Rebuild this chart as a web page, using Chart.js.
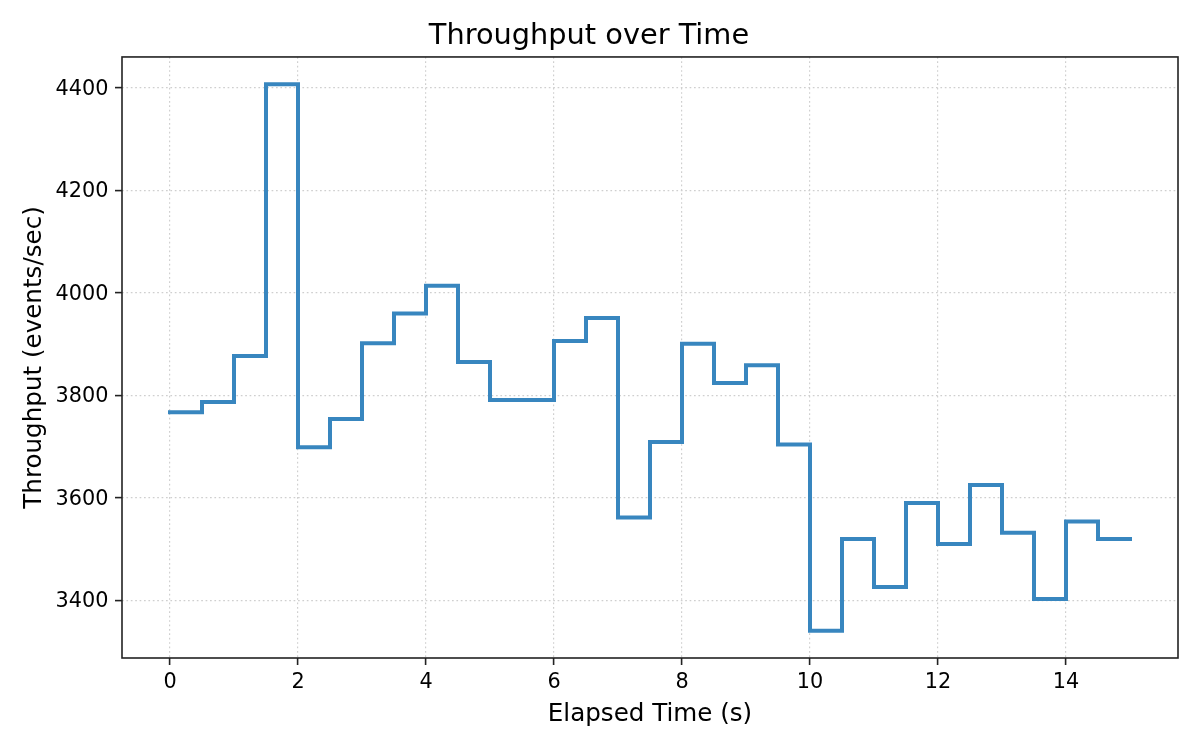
<!DOCTYPE html>
<html>
<head>
<meta charset="utf-8">
<title>Throughput over Time</title>
<script src="https://cdn.jsdelivr.net/npm/chart.js@4.4.1/dist/chart.umd.min.js"></script>
<style>
  html, body { margin: 0; padding: 0; background: #fff; }
  #wrap { width: 1200px; height: 750px; }
</style>
</head>
<body>
<div id="wrap"><canvas id="throughputChart" width="1200" height="750"></canvas></div>
<script>
// elapsed time (s) of each sample
const elapsed = [0, 0.5, 1, 1.5, 2, 2.5, 3, 3.5, 4, 4.5, 5, 5.5, 6, 6.5, 7, 7.5,
  8, 8.5, 9, 9.5, 10, 10.5, 11, 11.5, 12, 12.5, 13, 13.5, 14, 14.5, 15];
// throughput (events/sec), held until the next sample
const throughput = [3767, 3787, 3877, 4407, 3699, 3754, 3902, 3960, 4014, 3865,
  3791, 3791, 3906, 3951, 3562, 3709, 3901, 3824, 3859, 3704,
  3341, 3520, 3426, 3590, 3510, 3625, 3532, 3403, 3554, 3520, 3520];
const xTicks = [0, 2, 4, 6, 8, 10, 12, 14];
const yTicks = [3400, 3600, 3800, 4000, 4200, 4400];

const FONT = 'DejaVu Sans';

// matplotlib-like 5% margins around the data
const xSpan = elapsed[elapsed.length - 1] - elapsed[0];
const yLo = Math.min(...throughput), yHi = Math.max(...throughput);
const ySpan = yHi - yLo;

const gridStyle = {
  color: '#cfcfcf',
  lineWidth: 1.2,
  drawTicks: true,
  tickLength: 7,
  tickColor: '#222',
  tickWidth: 1.6
};

// full box around the plot area, like the axes spines
const frame = {
  id: 'frame',
  afterDraw(chart) {
    const { ctx, chartArea: a } = chart;
    ctx.save();
    ctx.strokeStyle = '#222';
    ctx.lineWidth = 1.6;
    ctx.strokeRect(a.left, a.top, a.right - a.left, a.bottom - a.top);
    ctx.restore();
  }
};

new Chart(document.getElementById('throughputChart'), {
  type: 'line',
  data: {
    datasets: [{
      label: 'Throughput',
      data: elapsed.map((t, i) => ({ x: t, y: throughput[i] })),
      stepped: 'before',
      borderColor: '#3886bf',
      borderWidth: 4,
      borderJoinStyle: 'miter',
      borderCapStyle: 'square',
      pointRadius: 0,
      fill: false,
      tension: 0
    }]
  },
  options: {
    responsive: false,
    animation: false,
    devicePixelRatio: 1,
    layout: { padding: { left: 0, right: 22, top: 0, bottom: 0 } },
    plugins: {
      legend: { display: false },
      tooltip: { enabled: false },
      title: {
        display: true,
        text: 'Throughput over Time',
        color: '#000',
        font: { family: FONT, size: 28.8, weight: 'normal' },
        padding: { top: 19, bottom: 3.4 }
      }
    },
    scales: {
      x: {
        type: 'linear',
        min: elapsed[0] - 0.05 * xSpan,
        max: elapsed[elapsed.length - 1] + 0.05 * xSpan,
        afterBuildTicks: (s) => { s.ticks = xTicks.map(v => ({ value: v })); },
        afterFit: (s) => { s.height = 92; },
        ticks: {
          color: '#000',
          padding: 5.5,
          maxRotation: 0,
          callback: (v) => String(v),
          font: { family: FONT, size: 20.8 }
        },
        grid: gridStyle,
        border: { display: false, dash: [1.7, 2.7] },
        title: {
          display: true,
          text: 'Elapsed Time (s)',
          color: '#000',
          font: { family: FONT, size: 24.6 },
          padding: { top: 0, bottom: 21 }
        }
      },
      y: {
        type: 'linear',
        min: yLo - 0.05 * ySpan,
        max: yHi + 0.05 * ySpan,
        afterBuildTicks: (s) => { s.ticks = yTicks.map(v => ({ value: v })); },
        afterFit: (s) => { s.width = 122; },
        ticks: {
          color: '#000',
          padding: 6.5,
          labelOffset: 1.5,
          callback: (v) => String(v),
          font: { family: FONT, size: 20.8 }
        },
        grid: gridStyle,
        border: { display: false, dash: [1.7, 2.7] },
        title: {
          display: true,
          text: 'Throughput (events/sec)',
          color: '#000',
          font: { family: FONT, size: 24.6 },
          padding: { top: 19.5, bottom: 0 }
        }
      }
    }
  },
  plugins: [frame]
});
</script>
</body>
</html>
